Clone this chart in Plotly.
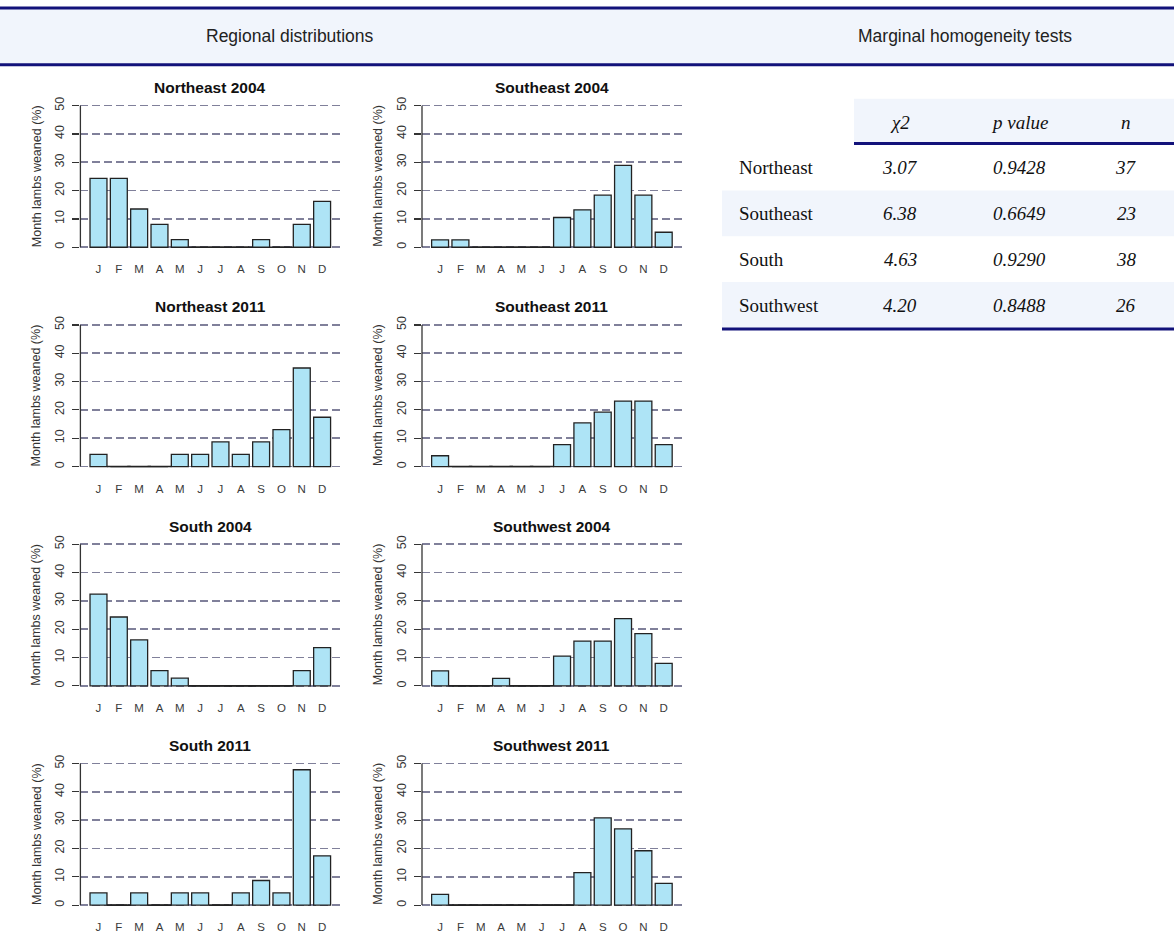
import plotly.graph_objects as go

W, H = 1174, 936

months = ["J", "F", "M", "A", "M", "J", "J", "A", "S", "O", "N", "D"]

northeast_2004 = [24.3, 24.3, 13.5, 8.1, 2.7, 0, 0, 0, 2.7, 0, 8.1, 16.2]
southeast_2004 = [2.6, 2.6, 0, 0, 0, 0, 10.5, 13.2, 18.4, 28.9, 18.4, 5.3]
northeast_2011 = [4.3, 0, 0, 0, 4.3, 4.3, 8.7, 4.3, 8.7, 13.0, 34.8, 17.4]
southeast_2011 = [3.8, 0, 0, 0, 0, 0, 7.7, 15.4, 19.2, 23.1, 23.1, 7.7]
south_2004 = [32.4, 24.3, 16.2, 5.4, 2.7, 0, 0, 0, 0, 0, 5.4, 13.5]
southwest_2004 = [5.3, 0, 0, 2.6, 0, 0, 10.5, 15.8, 15.8, 23.7, 18.4, 7.9]
south_2011 = [4.3, 0, 4.3, 0, 4.3, 4.3, 0, 4.3, 8.7, 4.3, 47.8, 17.4]
southwest_2011 = [3.8, 0, 0, 0, 0, 0, 0, 11.5, 30.8, 26.9, 19.2, 7.7]

panel_titles = [
    "Northeast 2004", "Southeast 2004",
    "Northeast 2011", "Southeast 2011",
    "South 2004", "Southwest 2004",
    "South 2011", "Southwest 2011",
]
panel_values = [
    northeast_2004, southeast_2004,
    northeast_2011, southeast_2011,
    south_2004, southwest_2004,
    south_2011, southwest_2011,
]

table_regions = ["Northeast", "Southeast", "South", "Southwest"]
table_chi2 = ["3.07", "6.38", "4.63", "4.20"]
table_p = ["0.9428", "0.6649", "0.9290", "0.8488"]
table_n = ["37", "23", "38", "26"]
table_headers = ["χ2", "p value", "n"]

ytick_vals = [0, 10, 20, 30, 40, 50]

BAR_FILL = "#aee4f6"
BAR_LINE = "#222222"
GRID = "#80809a"
NAVY = "#12127a"
BAND = "#f1f5fc"
SANS = "Liberation Sans, Arial, sans-serif"
SERIF = "Liberation Serif, Times New Roman, serif"


def px_x(a):
    return a / W


def px_y(b):
    return 1 - b / H


col_px = [(80.4, 340.2), (422.0, 681.8)]
row_top0 = 97.3
row_step = 220.0
row_h = 153.4

fig = go.Figure()
layout = dict(
    width=W, height=H,
    margin=dict(l=0, r=0, t=0, b=0),
    paper_bgcolor="white", plot_bgcolor="white",
    showlegend=False,
    shapes=[], annotations=[],
)

bar_w = 1 / 1.2
xs = list(range(12))

for k, (title, vals) in enumerate(zip(panel_titles, panel_values)):
    r, c = divmod(k, 2)
    idx = k + 1
    xa = "x" if idx == 1 else f"x{idx}"
    ya = "y" if idx == 1 else f"y{idx}"
    xkey = "xaxis" if idx == 1 else f"xaxis{idx}"
    ykey = "yaxis" if idx == 1 else f"yaxis{idx}"
    x0p, x1p = col_px[c]
    top = row_top0 + r * row_step
    bot = top + row_h

    fig.add_trace(go.Bar(
        x=xs, y=vals, width=bar_w, xaxis=xa, yaxis=ya,
        marker=dict(color=BAR_FILL, line=dict(color=BAR_LINE, width=1.3)),
        hoverinfo="skip",
    ))
    zx = [i for i, v in enumerate(vals) if v == 0]
    fig.add_trace(go.Scatter(
        x=zx, y=[0] * len(zx), xaxis=xa, yaxis=ya, mode="markers",
        marker=dict(symbol="line-ew", size=17,
                    line=dict(color=BAR_LINE, width=1.6)),
        hoverinfo="skip",
    ))

    layout[xkey] = dict(
        domain=[px_x(x0p), px_x(x1p)], anchor=ya,
        range=[-0.89, 11.89], tickvals=xs, ticktext=months,
        ticks="", showline=False, showgrid=False, zeroline=False,
        tickfont=dict(family=SANS, size=11.5, color="#3a3a3a"),
        ticklabelstandoff=8, fixedrange=True,
    )
    layout[ykey] = dict(
        domain=[px_y(bot), px_y(top)], anchor=xa,
        range=[-2, 52], tickvals=ytick_vals,
        ticks="outside", ticklen=7, tickwidth=1.2, tickcolor="#333333",
        tickangle=-90, showline=False, zeroline=False,
        showgrid=True, gridcolor=GRID, gridwidth=1.7, griddash="8px,4px",
        tickfont=dict(family=SANS, size=12.5, color="#333333"),
        ticklabelstandoff=3, fixedrange=True,
    )
    layout["shapes"].append(dict(
        type="line", xref=f"{xa} domain", yref=ya,
        x0=0, x1=0, y0=0, y1=50,
        line=dict(color="#333333", width=1.3),
    ))
    layout["annotations"].append(dict(
        text=f"<b>{title}</b>", xref="paper", yref="paper",
        x=px_x((x0p + x1p) / 2), y=px_y(top - 12.5),
        showarrow=False, xanchor="center", yanchor="middle",
        font=dict(family=SANS, size=15.5, color="#111111"),
    ))
    layout["annotations"].append(dict(
        text="Month lambs weaned (%)", xref="paper", yref="paper",
        x=px_x(x0p - 44), y=px_y(top + 76), textangle=-90,
        showarrow=False, xanchor="center", yanchor="middle",
        font=dict(family=SANS, size=12.5, color="#333333"),
    ))

# Header band
layout["shapes"].append(dict(type="rect", xref="paper", yref="paper",
                             x0=0, x1=1, y0=px_y(62), y1=px_y(5),
                             fillcolor=BAND, line=dict(width=0), layer="below"))
for yy in (5, 62):
    layout["shapes"].append(dict(type="line", xref="paper", yref="paper",
                                 x0=0, x1=1, y0=px_y(yy), y1=px_y(yy),
                                 line=dict(color=NAVY, width=3)))
layout["annotations"].append(dict(
    text="Regional distributions", xref="paper", yref="paper",
    x=px_x(290), y=px_y(33), showarrow=False,
    xanchor="center", yanchor="middle",
    font=dict(family=SANS, size=17.5, color="#222222")))
layout["annotations"].append(dict(
    text="Marginal homogeneity tests", xref="paper", yref="paper",
    x=px_x(965), y=px_y(33), showarrow=False,
    xanchor="center", yanchor="middle",
    font=dict(family=SANS, size=17.5, color="#222222")))

# Table
tbl_left = 722
hdr_left = 854
row0_center = 165
row_pitch = 46
col_centers = [900, 1019, 1126]
label_x = 737

layout["shapes"].append(dict(type="rect", xref="paper", yref="paper",
                             x0=px_x(hdr_left), x1=1, y0=px_y(140), y1=px_y(96),
                             fillcolor=BAND, line=dict(width=0), layer="below"))
for i in range(len(table_regions)):
    cy = row0_center + i * row_pitch
    if i % 2 == 1:
        layout["shapes"].append(dict(
            type="rect", xref="paper", yref="paper",
            x0=px_x(tbl_left), x1=1, y0=px_y(cy + 23), y1=px_y(cy - 23),
            fillcolor=BAND, line=dict(width=0), layer="below"))
layout["shapes"].append(dict(type="line", xref="paper", yref="paper",
                             x0=px_x(hdr_left), x1=1, y0=px_y(141), y1=px_y(141),
                             line=dict(color=NAVY, width=3)))
last_c = row0_center + (len(table_regions) - 1) * row_pitch
layout["shapes"].append(dict(type="line", xref="paper", yref="paper",
                             x0=px_x(tbl_left), x1=1,
                             y0=px_y(last_c + 24), y1=px_y(last_c + 24),
                             line=dict(color=NAVY, width=3)))

for j, htxt in enumerate(table_headers):
    layout["annotations"].append(dict(
        text=f"<i>{htxt}</i>", xref="paper", yref="paper",
        x=px_x(col_centers[j]), y=px_y(120), showarrow=False,
        xanchor="center", yanchor="middle",
        font=dict(family=SERIF, size=19, color="#111111")))

for i, reg in enumerate(table_regions):
    cy = row0_center + i * row_pitch
    layout["annotations"].append(dict(
        text=reg, xref="paper", yref="paper",
        x=px_x(label_x), y=px_y(cy), showarrow=False,
        xanchor="left", yanchor="middle",
        font=dict(family=SERIF, size=19, color="#111111")))
    for j, val in enumerate((table_chi2[i], table_p[i], table_n[i])):
        layout["annotations"].append(dict(
            text=f"<i>{val}</i>", xref="paper", yref="paper",
            x=px_x(col_centers[j]), y=px_y(cy), showarrow=False,
            xanchor="center", yanchor="middle",
            font=dict(family=SERIF, size=19, color="#111111")))

fig.update_layout(**layout)
fig.write_html(
    "out.html",
    config={"displayModeBar": False, "staticPlot": True},
    post_script="document.body.style.margin='0';document.body.style.padding='0';document.body.style.overflow='hidden';",
)
